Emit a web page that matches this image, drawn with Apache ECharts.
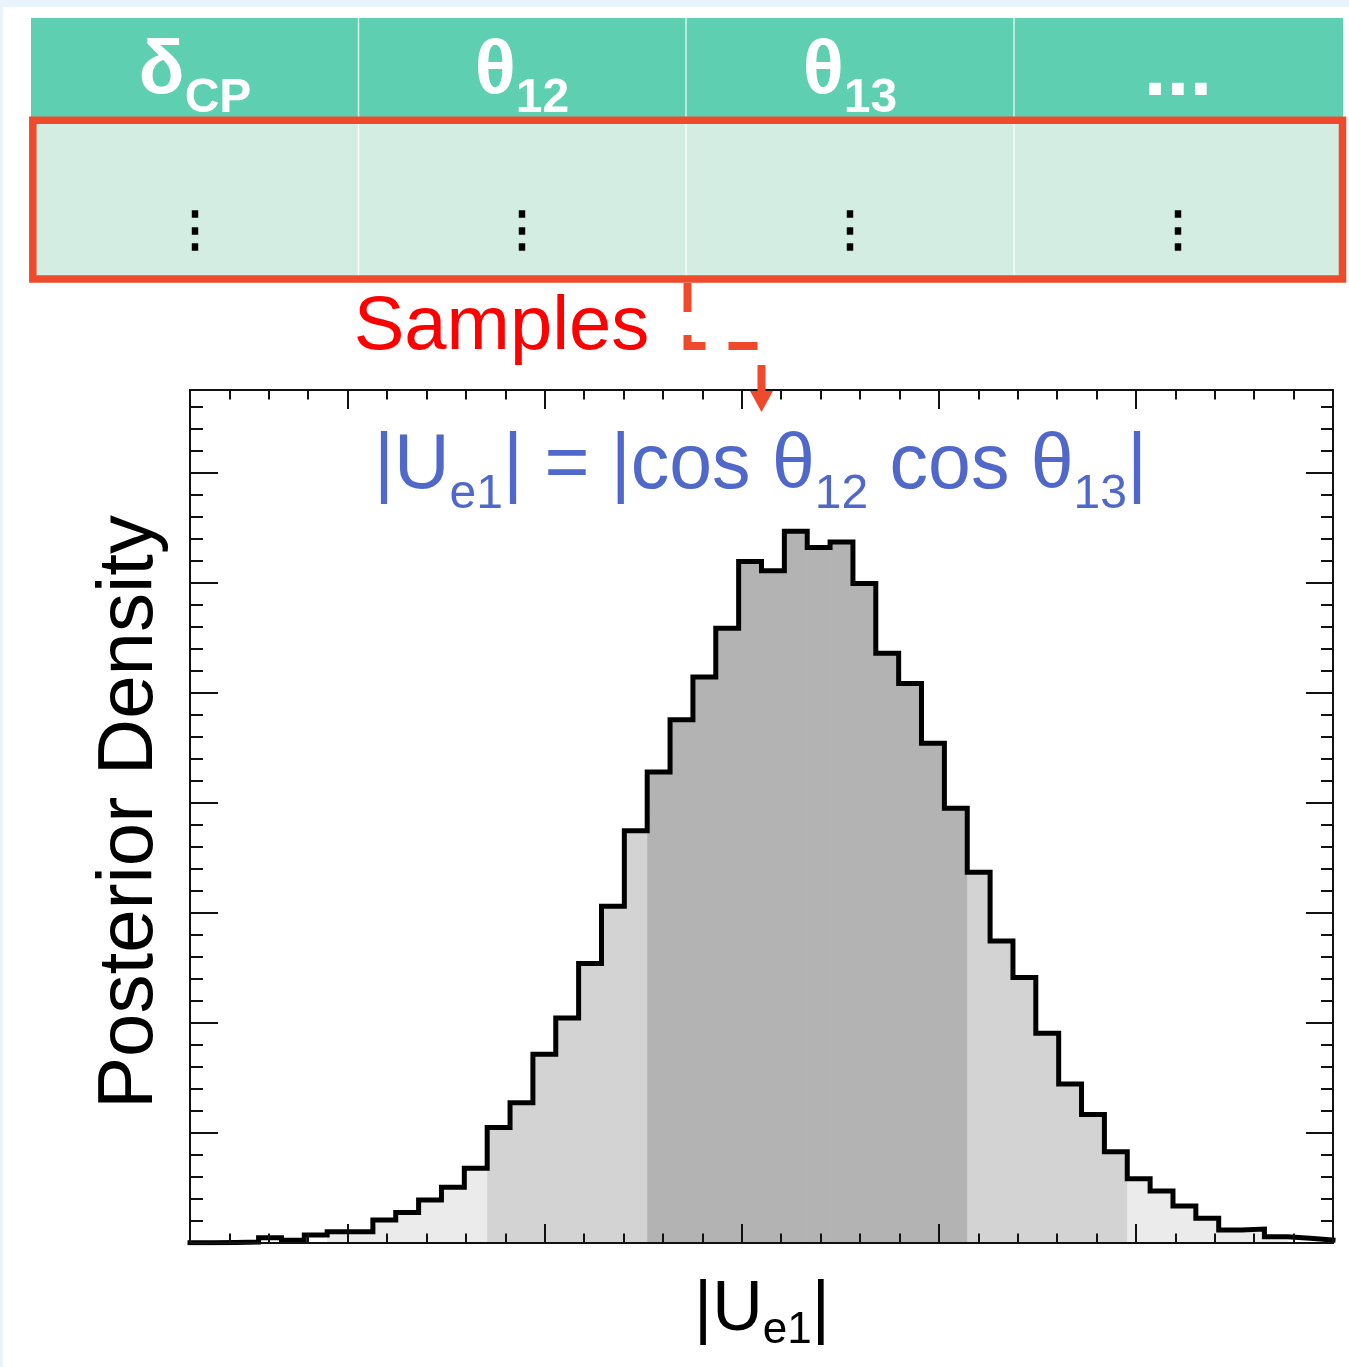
<!DOCTYPE html>
<html><head><meta charset="utf-8">
<script src="https://cdn.jsdelivr.net/npm/echarts@6/dist/echarts.min.js"></script>
<style>html,body{margin:0;padding:0;background:#fff;}#c{width:1349px;height:1367px;}</style>
</head><body><div id="c"></div>
<script>
// ---------- data ----------
const tableHeaderMain = ['δ', 'θ', 'θ', '...'];
const tableHeaderSub = ['CP', '12', '13', ''];
const tableRowText = ['⋮', '⋮', '⋮', '⋮'];
const samplesLabel = 'Samples';
const yAxisTitle = 'Posterior Density';

// histogram of |Ue1| samples (x in units of 0.001, 50 bins)
const xRange = [792, 850];
const binCount = 50;
const binCounts = [
  0.3, 0.4, 0.8, 4.8, 2.4, 7.3, 10.3, 10.3, 20.9, 27.6,
  39.0, 50.6, 67.9, 105.0, 127.4, 171.4, 204.4, 253.9, 306.0, 374.5,
  427.9, 475.3, 514.2, 558.6, 619.2, 610.7, 646.7, 631.9, 637.0, 599.3,
  535.8, 508.3, 454.1, 394.9, 336.9, 274.3, 241.3, 190.5, 144.4, 116.8,
  82.9, 58.4, 47.3, 33.6, 22.4, 11.8, 12.7, 5.7, 4.3, 2.7
];
// credible intervals as [first bin, first bin after]
const band1Sigma = [20, 34];
const band2Sigma = [13, 41];
const band3Sigma = [6, 48];
const yRange = [0, 775];
const xMajorTicks = [800, 810, 820, 830, 840];
const yMajorTicks = [100, 200, 300, 400, 500, 600, 700];

// ---------- derived ----------
const binWidth = (xRange[1] - xRange[0]) / binCount;
const xMinorTicks = [];
for (let v = xRange[0] + 2; v < xRange[1]; v += 2) xMinorTicks.push(v);
const yMinorTicks = [];
for (let v = 20; v < yRange[1]; v += 20) yMinorTicks.push(v);

function fillForBin(i) {
  if (i >= band1Sigma[0] && i < band1Sigma[1]) return '#b3b3b3';
  if (i >= band2Sigma[0] && i < band2Sigma[1]) return '#d3d3d3';
  if (i >= band3Sigma[0] && i < band3Sigma[1]) return '#ebebeb';
  return null;
}
const outline = binCounts.map((v, i) => [xRange[0] + i * binWidth, v]);
outline.push([xRange[1], binCounts[binCount - 1]]);

const AX = '#111';
function mkX(pos, ticks, len, line) {
  return {type: 'value', position: pos, min: xRange[0], max: xRange[1], z: 5,
    axisLine: {show: line, onZero: false, lineStyle: {color: AX, width: 2}},
    axisTick: {show: true, inside: true, length: len, customValues: ticks, lineStyle: {color: AX, width: 2}},
    axisLabel: {show: false}, splitLine: {show: false}};
}
function mkY(pos, ticks, len, line) {
  return {type: 'value', position: pos, min: yRange[0], max: yRange[1], z: 5,
    axisLine: {show: line, onZero: false, lineStyle: {color: AX, width: 2}},
    axisTick: {show: true, inside: true, length: len, customValues: ticks, lineStyle: {color: AX, width: 2}},
    axisLabel: {show: false}, splitLine: {show: false}};
}

const SANS = 'Liberation Sans';
const measureCtx = document.createElement('canvas').getContext('2d');
function textWidth(t, size, weight) {
  measureCtx.font = (weight || 'normal') + ' ' + size + 'px "' + SANS + '"';
  return measureCtx.measureText(t).width;
}
// lay out pieces of text (main / subscript) centred on cx, each piece on its own baseline
function pieces(cx, baseline, parts, color, weight, z) {
  const widths = parts.map(p => textWidth(p.t, p.size, weight));
  const total = widths.reduce((a, b) => a + b, 0);
  let x = cx - total / 2;
  const out = [];
  parts.forEach((p, k) => {
    const b = baseline + (p.dy || 0);
    out.push({type: 'text', x: x, y: b - 0.3465 * p.size, z: z || 10, style: {
      text: p.t, fontSize: p.size, fontWeight: weight || 'normal', fontFamily: SANS,
      fill: color, align: 'left', verticalAlign: 'middle'}});
    x += widths[k];
  });
  return out;
}

const cellCenters = [195, 522, 850, 1178];
let graphics = [];
// page strips
graphics.push({type: 'rect', shape: {x: 0, y: 0, width: 1349, height: 7}, style: {fill: '#e9f3fc'}, z: 1});
graphics.push({type: 'rect', shape: {x: 0, y: 0, width: 3, height: 1367}, style: {fill: '#e9f3fc'}, z: 1});
// table
graphics.push({type: 'rect', shape: {x: 31, y: 18, width: 1312, height: 103}, style: {fill: '#5ecfb1'}, z: 1});
graphics.push({type: 'rect', shape: {x: 33, y: 120, width: 1309, height: 159}, style: {fill: '#d3ede3'}, z: 1});
[358.5, 686, 1014].forEach(x => {
  graphics.push({type: 'line', shape: {x1: x, y1: 18, x2: x, y2: 118}, style: {stroke: 'rgba(255,255,255,0.75)', lineWidth: 1.5}, z: 2});
  graphics.push({type: 'line', shape: {x1: x, y1: 124, x2: x, y2: 276}, style: {stroke: 'rgba(255,255,255,0.9)', lineWidth: 1.5}, z: 2});
});
graphics.push({type: 'rect', shape: {x: 32.8, y: 120.3, width: 1309.7, height: 158.7}, style: {fill: null, stroke: '#ef4a2b', lineWidth: 7.5}, z: 3});
tableHeaderMain.forEach((m, i) => {
  const s = tableHeaderSub[i];
  if (m === '...') {
    graphics = graphics.concat(pieces(cellCenters[i], 101, [{t: m, size: 82}], '#fff', 'bold', 4));
  } else {
    graphics = graphics.concat(pieces(cellCenters[i], 98, [{t: m, size: 76}, {t: s, size: 48, dy: 17}], '#fff', 'bold', 4));
  }
  graphics.push({type: 'text', x: cellCenters[i], y: 228, z: 4, style: {
    text: tableRowText[i], fontSize: 48, fontWeight: 'bold', fontFamily: 'Noto Sans CJK JP', fill: '#000', align: 'center', verticalAlign: 'middle'}});
});
// Samples label and dashed connector
graphics = graphics.concat(pieces(501.5, 354, [{t: samplesLabel, size: 76}], '#ff0000', 'normal', 4));
graphics.push({type: 'polyline', z: 20, shape: {points: [[687.5, 283], [687.5, 346], [761.5, 346], [761.5, 393]]},
  style: {stroke: '#ef4a2b', lineWidth: 8, lineDash: [29, 23], lineCap: 'butt', lineJoin: 'miter', fill: null}});
graphics.push({type: 'polygon', z: 20, shape: {points: [[750, 391], [773, 391], [761.5, 412]]}, style: {fill: '#ef4a2b'}});
// formula
graphics = graphics.concat(pieces(760.5, 493, [
  {t: '|U', size: 77}, {t: 'e1', size: 48, dy: 18}, {t: '| = |cos θ', size: 77},
  {t: '12', size: 48, dy: 18}, {t: ' cos θ', size: 77}, {t: '13', size: 48, dy: 18}, {t: '|', size: 77}
], '#5068c9', 'normal', 10));
// axis titles
graphics = graphics.concat(pieces(762, 1335, [
  {t: '|U', size: 70}, {t: 'e1', size: 44, dy: 11}, {t: '|', size: 70}
], '#000', 'normal', 10));
graphics.push({type: 'text', x: 130, y: 812, rotation: Math.PI / 2, z: 10, style: {
  text: yAxisTitle, fontSize: 78, fontFamily: SANS, fill: '#000', align: 'center', verticalAlign: 'middle'}});

const chart = echarts.init(document.getElementById('c'), null, {renderer: 'canvas'});
chart.setOption({
  animation: false,
  backgroundColor: '#ffffff',
  grid: {left: 190, top: 390, width: 1143, height: 853, show: false},
  xAxis: [mkX('bottom', xMajorTicks, 19, true), mkX('bottom', xMinorTicks, 9.5, false),
          mkX('top', xMajorTicks, 19, true), mkX('top', xMinorTicks, 9.5, false)],
  yAxis: [mkY('left', yMajorTicks, 28, true), mkY('left', yMinorTicks, 13, false),
          mkY('right', yMajorTicks, 27, true), mkY('right', yMinorTicks, 12, false)],
  series: [
    {type: 'custom', xAxisIndex: 0, yAxisIndex: 0, z: 1, silent: true,
     data: binCounts.map((v, i) => [i, v]),
     renderItem: function (params, api) {
       const i = api.value(0), v = api.value(1);
       const col = fillForBin(i);
       if (!col) return null;
       const x0 = xRange[0] + i * binWidth;
       const p0 = api.coord([x0, v]);
       const p1 = api.coord([x0 + binWidth, 0]);
       return {type: 'rect', shape: {x: p0[0], y: p0[1], width: p1[0] - p0[0] + 0.6, height: p1[1] - p0[1]}, style: {fill: col}};
     }},
    {type: 'line', xAxisIndex: 0, yAxisIndex: 0, z: 3, step: 'end', data: outline, symbol: 'none', silent: true,
     lineStyle: {color: '#000', width: 5, join: 'miter', cap: 'square'}}
  ],
  graphic: graphics
});
</script></body></html>
